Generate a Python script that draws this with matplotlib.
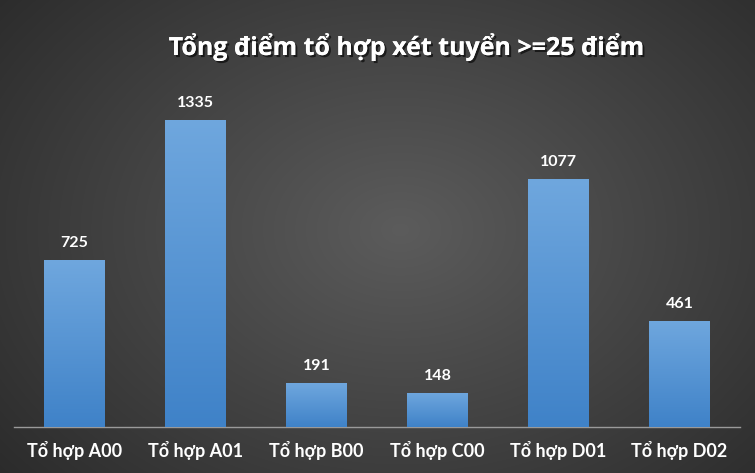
import matplotlib
matplotlib.use('Agg')
import matplotlib.pyplot as plt
import matplotlib.patheffects as pe
from matplotlib.colors import LinearSegmentedColormap
import numpy as np

categories = ['Tổ hợp A00', 'Tổ hợp A01', 'Tổ hợp B00', 'Tổ hợp C00', 'Tổ hợp D01', 'Tổ hợp D02']
values = [725, 1335, 191, 148, 1077, 461]
title = 'Tổng điểm tổ hợp xét tuyển >=25 điểm'

plt.rcParams['font.family'] = ['Lato', 'DejaVu Sans']

W, H = 755, 473
fig = plt.figure(figsize=(W / 100, H / 100), dpi=100)

# nền xám tối dạng radial gradient
bg = fig.add_axes([0, 0, 1, 1])
yy, xx = np.mgrid[0:H, 0:W]
r = np.sqrt(((xx - 400) / 520.0) ** 2 + ((yy - 230) / 380.0) ** 2)
shade = np.clip(0.36 - 0.19 * r, 0.15, 0.37)
bg.imshow(np.dstack([shade] * 3), extent=[0, 1, 0, 1], aspect='auto', zorder=0)
bg.set_xlim(0, 1)
bg.set_ylim(0, 1)
bg.axis('off')

ax = fig.add_axes([14 / W, (H - 427) / H, 726 / W, 345 / H])
ax.patch.set_alpha(0)
x = np.arange(len(categories))
bars = ax.bar(x, values, width=0.5, color='#5593d6', zorder=2)

cmap = LinearSegmentedColormap.from_list('blu', ['#3f82c8', '#6fa7de'])
grad = np.linspace(0, 1, 256).reshape(-1, 1)
for b in bars:
    x0, y0 = b.get_x(), b.get_y()
    im = ax.imshow(grad, cmap=cmap, origin='lower', aspect='auto',
                   extent=[x0, x0 + b.get_width(), y0, y0 + b.get_height()], zorder=3)
    im.set_clip_path(b)
ax.set_xlim(-0.5, len(categories) - 0.5)
ax.set_ylim(0, 1500)

for xi, v in zip(x, values):
    ax.text(xi, v + 45, str(v), ha='center', va='bottom', color='white',
            fontsize=11.5, fontweight='bold', zorder=4)

for s in ['top', 'right', 'left']:
    ax.spines[s].set_visible(False)
ax.spines['bottom'].set_color('#9a9a9a')
ax.spines['bottom'].set_linewidth(1.0)
ax.set_yticks([])
ax.set_xticks(x)
ax.set_xticklabels(categories, color='white', fontsize=13, fontweight='bold')
ax.tick_params(axis='x', length=0, pad=10)

fig.text(407 / W, 1 - 47 / H, title, ha='center', va='center', color='white',
         fontsize=18, fontweight='bold', family=['Open Sans', 'DejaVu Sans'],
         path_effects=[pe.withSimplePatchShadow(offset=(1.5, -1.5), shadow_rgbFace='black', alpha=0.6),
                       pe.Normal()])

fig.savefig('out.png', dpi=100)
